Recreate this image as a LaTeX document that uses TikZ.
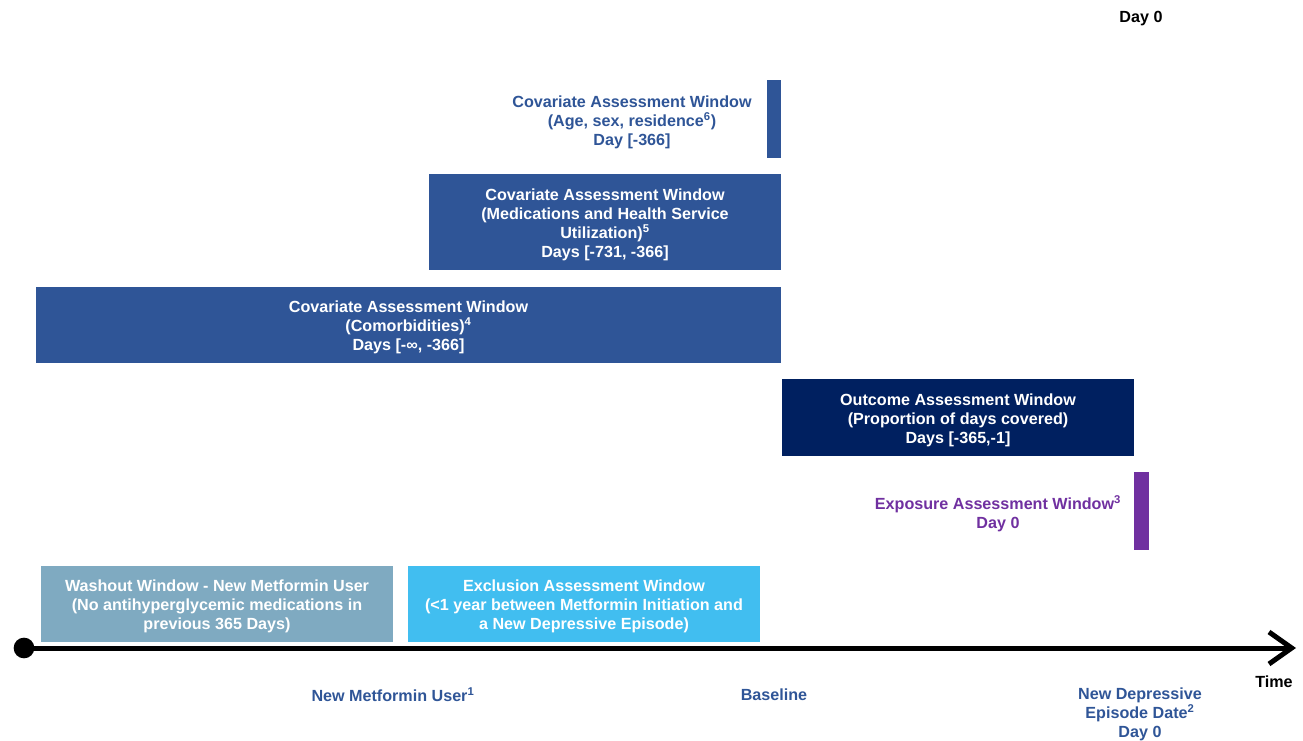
\documentclass[tikz,border=0pt]{standalone}
\usepackage{fontspec}
\setmainfont{Liberation Sans}
\usetikzlibrary{arrows.meta}
\definecolor{covblue}{RGB}{47,85,151}
\definecolor{navy}{RGB}{0,32,96}
\definecolor{expurple}{RGB}{112,48,160}
\definecolor{washgray}{RGB}{127,170,193}
\definecolor{exclblue}{RGB}{65,190,240}
\begin{document}
\begin{tikzpicture}[x=0.75pt,y=-0.75pt,
  txt/.style={font=\bfseries\fontsize{12.1}{14.25}\selectfont, align=center, inner sep=0},
  box/.style={draw=none, inner sep=0},
  wtxt/.style={txt, text=white},
  lbl/.style={txt, text=covblue},
  blk/.style={txt, text=black}]
\useasboundingbox (0,0) rectangle (1303,741);
% top label
\node[blk] (day0top) at (1141,19) {Day 0};
% age bar and text
\node[box, fill=covblue, minimum width=10.5pt, minimum height=58.5pt] (agebar) at (774,119) {};
\node[lbl] (agetxt) at (632,122) {Covariate Assessment Window\\(Age, sex, residence\textsuperscript{6})\\Day [-366]};
% medications
\node[box, fill=covblue, minimum width=264pt, minimum height=72pt] (med) at (605,222) {};
\node[wtxt] (medtxt) at (605,225)
  {Covariate Assessment Window\\(Medications and Health Service\\Utilization)\textsuperscript{5}\\Days [-731, -366]};
% comorbidities
\node[box, fill=covblue, minimum width=558.75pt, minimum height=57pt] (comorb) at (408.5,325) {};
\node[wtxt] (comorbtxt) at (408.5,327.5)
  {Covariate Assessment Window\\(Comorbidities)\textsuperscript{4}\\Days [-∞, -366]};
% outcome
\node[box, fill=navy, minimum width=264pt, minimum height=57.75pt] (outcome) at (958,417.5) {};
\node[wtxt] (outcometxt) at (958,420)
  {Outcome Assessment Window\\(Proportion of days covered)\\Days [-365,-1]};
% exposure bar and text
\node[box, fill=expurple, minimum width=11.25pt, minimum height=58.5pt] (expbar) at (1141.5,511) {};
\node[txt, text=expurple] (exptxt) at (998,514) {Exposure Assessment Window\textsuperscript{3}\\Day 0};
% washout
\node[box, fill=washgray, minimum width=264pt, minimum height=57pt] (washout) at (217,604) {};
\node[wtxt] (washouttxt) at (217,606.5)
  {Washout Window - New Metformin User\\(No antihyperglycemic medications in\\previous 365 Days)};
% exclusion
\node[box, fill=exclblue, minimum width=264pt, minimum height=57pt] (exclusion) at (584,604) {};
\node[wtxt] (exclusiontxt) at (584,606.5)
  {Exclusion Assessment Window\\(<1 year between Metformin Initiation and\\a New Depressive Episode)};
% timeline
\node[circle, fill=black, minimum size=15.5pt, inner sep=0] (start) at (24,648) {};
\coordinate (tend) at (1296,648);
\draw[line width=3.75pt, -{Straight Barb[length=17pt, width=24pt, line width=3.75pt]}] (start.center) -- (tend);
% labels below
\node[blk] (time) at (1274,682) {Time};
\node[lbl] (newuser) at (393,695) {New Metformin User\textsuperscript{1}};
\node[lbl] (baseline) at (774,695) {Baseline};
\node[lbl] (newdep) at (1140,714) {New Depressive\\Episode Date\textsuperscript{2}\\Day 0};
\end{tikzpicture}
\end{document}
